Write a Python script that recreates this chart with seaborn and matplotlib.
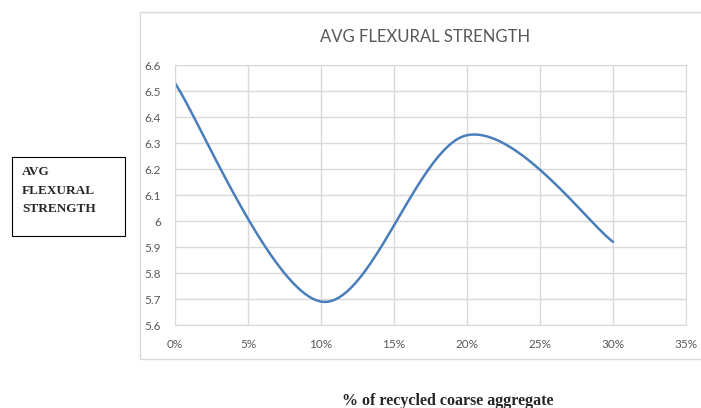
import numpy as np
import pandas as pd
import seaborn as sns
import matplotlib.pyplot as plt
from matplotlib.patches import Rectangle

# values
pct_recycled = [0.00, 0.10, 0.20, 0.30]
avg_flexural = [6.53, 5.69, 6.33, 5.92]
x_ticks = [0, 0.05, 0.10, 0.15, 0.20, 0.25, 0.30, 0.35]
x_tick_labels = ['0%', '5%', '10%', '15%', '20%', '25%', '30%', '35%']
y_ticks = [5.6, 5.7, 5.8, 5.9, 6.0, 6.1, 6.2, 6.3, 6.4, 6.5, 6.6]
y_tick_labels = ['5.6', '5.7', '5.8', '5.9', '6', '6.1', '6.2', '6.3', '6.4', '6.5', '6.6']


def smooth_line(xs, ys, steps=40):
    # Excel-style smoothed line (Catmull-Rom / bezier through every point)
    px = [xs[0]] + list(xs) + [xs[-1]]
    py = [ys[0]] + list(ys) + [ys[-1]]
    out_x, out_y = [], []
    for i in range(1, len(px) - 2):
        p0, p1, p2, p3 = np.array([px[i-1], py[i-1]]), np.array([px[i], py[i]]), \
            np.array([px[i+1], py[i+1]]), np.array([px[i+2], py[i+2]])
        c1 = p1 + (p2 - p0) / 6
        c2 = p2 - (p3 - p1) / 6
        t = np.linspace(0, 1, steps)[:, None]
        pts = (1-t)**3 * p1 + 3*(1-t)**2*t * c1 + 3*(1-t)*t**2 * c2 + t**3 * p2
        out_x.extend(pts[:, 0])
        out_y.extend(pts[:, 1])
    return pd.DataFrame({'pct': out_x, 'strength': out_y})


curve = smooth_line(pct_recycled, avg_flexural)

sns.set_style('white')
fig = plt.figure(figsize=(7.01, 4.08), dpi=100)

# outer chart frame
fig.add_artist(Rectangle((139.5/701, 1 - 358.5/408), 0.9, (358.5-12)/408,
                         transform=fig.transFigure, fill=False,
                         edgecolor='#d9d9d9', linewidth=1))

ax = fig.add_axes([175/701, 1 - 325/408, (686-175)/701, (325-65)/408])
sns.lineplot(data=curve, x='pct', y='strength', sort=False, ax=ax,
             color='#4a7ebb', linewidth=1.8)

ax.set_xlim(0, 0.35)
ax.set_ylim(5.6, 6.6)
ax.set_xticks(x_ticks)
ax.set_xticklabels(x_tick_labels)
ax.set_yticks(y_ticks)
ax.set_yticklabels(y_tick_labels)
ax.grid(True, color='#d9d9d9', linewidth=1)
for s in ax.spines.values():
    s.set_color('#d9d9d9')
ax.tick_params(colors='#595959', labelsize=8.5, length=0)
ax.tick_params(axis='x', pad=10)
ax.tick_params(axis='y', pad=10)
for lbl in ax.get_xticklabels() + ax.get_yticklabels():
    lbl.set_family('Lato')
ax.set_xlabel('')
ax.set_ylabel('')

fig.text(425/701, 1 - 37/408, 'AVG FLEXURAL STRENGTH', ha='center', va='center',
         fontsize=12, color='#595959', family='Lato')

# side box label
fig.add_artist(Rectangle((12/701, 1 - 236/408), 113/701, 79/408,
                         transform=fig.transFigure, fill=False,
                         edgecolor='black', linewidth=0.8))
fig.text(22/701, 1 - 166/408, 'AVG\nFLEXURAL\nSTRENGTH', ha='left', va='top',
         fontsize=9.5, fontweight='bold', family='Liberation Serif',
         linespacing=1.75)

fig.text(448/701, 1 - 401/408, '% of recycled coarse aggregate', ha='center',
         va='center', fontsize=11.5, fontweight='bold', family='Liberation Serif')

plt.savefig('out.png', dpi=100)
